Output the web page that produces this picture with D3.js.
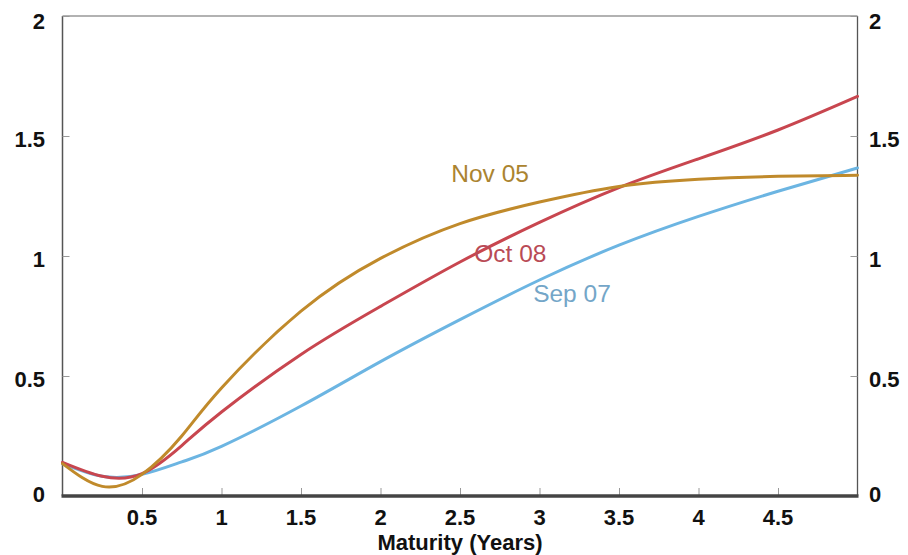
<!DOCTYPE html>
<html>
<head>
<meta charset="utf-8">
<script src="https://cdn.jsdelivr.net/npm/d3@7"></script>
<style>
  html, body { margin: 0; padding: 0; background: #fff; }
  svg { display: block; }
</style>
</head>
<body>
<svg id="chart" width="908" height="555"></svg>
<script>
// ---- data ----
const maturities = [0, 0.25, 0.5, 0.75, 1, 1.5, 2, 2.5, 3, 3.5, 4, 4.5, 5];
const nov05 = [0.135, 0.04, 0.09, 0.25, 0.45, 0.77, 0.99, 1.135, 1.225, 1.29, 1.32, 1.332, 1.336];
const oct08 = [0.14, 0.082, 0.093, 0.21, 0.35, 0.59, 0.79, 0.975, 1.14, 1.285, 1.405, 1.525, 1.665];
const sep07 = [0.135, 0.082, 0.09, 0.142, 0.207, 0.375, 0.56, 0.735, 0.9, 1.045, 1.165, 1.27, 1.367];
const seriesNames = ["Nov 05", "Oct 08", "Sep 07"];
const xTicks = [0.5, 1, 1.5, 2, 2.5, 3, 3.5, 4, 4.5];
const yTicks = [0, 0.5, 1, 1.5, 2];
const xTitle = "Maturity (Years)";

(function () {
// ---- layout ----
const svg = d3.select("#chart");
const pL = 62.5, pR = 857.5, pT = 16, pB = 496;
const x = d3.scaleLinear().domain([0, 5]).range([pL, pR]);
const y = d3.scaleLinear().domain([0, 2]).range([pB, pT]);

const lineColors = ["#c08a2b", "#c8464f", "#6cb5e2"];
const labelColors = ["#ab8430", "#b94b56", "#74a6c8"];
const labelPos = [[2.445, 1.31], [2.59, 0.975], [2.96, 0.81]];

// frame
svg.append("line").attr("x1", pL).attr("x2", pL).attr("y1", pT).attr("y2", pB)
  .attr("stroke", "#555").attr("stroke-width", 1.5);
svg.append("line").attr("x1", pR).attr("x2", pR).attr("y1", pT).attr("y2", pB)
  .attr("stroke", "#555").attr("stroke-width", 1.3);
svg.append("line").attr("x1", pL).attr("x2", pR).attr("y1", pT).attr("y2", pT)
  .attr("stroke", "#666").attr("stroke-width", 1.2);

// ticks
const tickFont = "'Liberation Sans', Arial, Helvetica, sans-serif";
const yAxisL = d3.axisRight(y).tickValues(yTicks).tickSize(7).tickFormat("");
const gL = svg.append("g").attr("transform", `translate(${pL},0)`).call(yAxisL);
gL.select(".domain").remove();
gL.selectAll(".tick line").attr("stroke", "#999");
const yAxisR = d3.axisLeft(y).tickValues(yTicks).tickSize(7).tickFormat("");
const gR = svg.append("g").attr("transform", `translate(${pR},0)`).call(yAxisR);
gR.select(".domain").remove();
gR.selectAll(".tick line").attr("stroke", "#999");
const xAxis = d3.axisTop(x).tickValues(xTicks).tickSize(8).tickFormat("");
const gX = svg.append("g").attr("transform", `translate(0,${pB})`).call(xAxis);
gX.select(".domain").remove();
gX.selectAll(".tick line").attr("stroke", "#999");

// y labels
const labY = v => Math.min(Math.max(y(v) + 11, 29), 502);
svg.append("g").selectAll("text").data(yTicks).join("text")
  .attr("x", 45).attr("y", d => labY(d)).attr("text-anchor", "end")
  .attr("font-family", tickFont).attr("font-weight", "bold").attr("font-size", 22).attr("fill", "#111")
  .text(d => d3.format("")(d));
svg.append("g").selectAll("text").data(yTicks).join("text")
  .attr("x", 869).attr("y", d => labY(d)).attr("text-anchor", "start")
  .attr("font-family", tickFont).attr("font-weight", "bold").attr("font-size", 22).attr("fill", "#111")
  .text(d => d3.format("")(d));
// x labels
svg.append("g").selectAll("text").data(xTicks).join("text")
  .attr("x", d => x(d)).attr("y", 525).attr("text-anchor", "middle")
  .attr("font-family", tickFont).attr("font-weight", "bold").attr("font-size", 22).attr("fill", "#111")
  .text(d => d3.format("")(d));
svg.append("text").attr("x", 460).attr("y", 550).attr("text-anchor", "middle")
  .attr("font-family", tickFont).attr("font-weight", "bold").attr("font-size", 22).attr("fill", "#111")
  .text(xTitle);

// lines
const allSeries = [nov05, oct08, sep07];
const line = d3.line().x((d, i) => x(maturities[i])).y(d => y(d)).curve(d3.curveNatural);
const drawOrder = [2, 1, 0];
drawOrder.forEach(k => {
  svg.append("path").datum(allSeries[k]).attr("d", line)
    .attr("fill", "none").attr("stroke", lineColors[k]).attr("stroke-width", 3)
    .attr("stroke-linecap", "round");
});

// bottom axis line
svg.append("line").attr("x1", pL - 1).attr("x2", pR + 1).attr("y1", pB).attr("y2", pB)
  .attr("stroke", "#444").attr("stroke-width", 3.5);

// series labels
svg.append("g").selectAll("text").data(seriesNames).join("text")
  .attr("x", (d, i) => x(labelPos[i][0])).attr("y", (d, i) => y(labelPos[i][1]))
  .attr("font-family", tickFont).attr("font-size", 24.5).attr("fill", (d, i) => labelColors[i])
  .text(d => d);
})();
</script>
</body>
</html>
